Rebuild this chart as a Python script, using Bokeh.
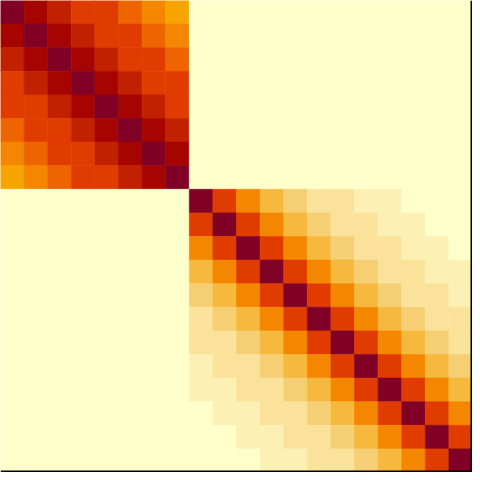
import numpy as np
from bokeh.plotting import figure
from bokeh.models import ColumnDataSource, LinearColorMapper, Range1d, Span
from bokeh.transform import transform
from bokeh.embed import file_html
from bokeh.resources import INLINE

# colour level by lag (|i-j|) within each diagonal block
block_sizes = [8, 12]
block_a_levels = [11, 10, 9, 8, 8, 7, 6, 5]
block_b_levels = [11, 8, 6, 4, 3, 2, 2, 1, 1, 0, 0, 0]
off_block_level = 0

palette = ["#ffffcc", "#fdf0b4", "#fbe29b", "#f6cf75", "#f7b93d", "#f6a500",
           "#f48600", "#ee6500", "#e03c00", "#c22100", "#a50400", "#800026"]

n = sum(block_sizes)
levels = np.full((n, n), off_block_level)
start = 0
for size, lv in zip(block_sizes, [block_a_levels, block_b_levels]):
    for i in range(size):
        for j in range(size):
            levels[start + i, start + j] = lv[abs(i - j)]
    start += size

xs, ys, vs = [], [], []
for i in range(n):
    for j in range(n):
        xs.append(j + 0.5)
        ys.append(i + 0.5)
        vs.append(int(levels[i, j]))

src = ColumnDataSource(dict(x=xs, y=ys, v=vs))
mapper = LinearColorMapper(palette=palette, low=-0.5, high=len(palette) - 0.5)

p = figure(width=472, height=472, output_backend="svg", toolbar_location=None,
           x_range=Range1d(0, n), y_range=Range1d(n, 0), min_border=0)
p.rect(x="x", y="y", width=1, height=1, source=src,
       fill_color=transform("v", mapper), line_color=transform("v", mapper),
       line_width=0.6)
p.axis.visible = False
p.grid.visible = False
p.outline_line_color = None
p.background_fill_color = "#ffffcc"
p.add_layout(Span(location=n, dimension="height", line_color="black", line_width=4))
p.add_layout(Span(location=n, dimension="width", line_color="black", line_width=4))

open("out.html", "w").write(file_html(p, INLINE))
